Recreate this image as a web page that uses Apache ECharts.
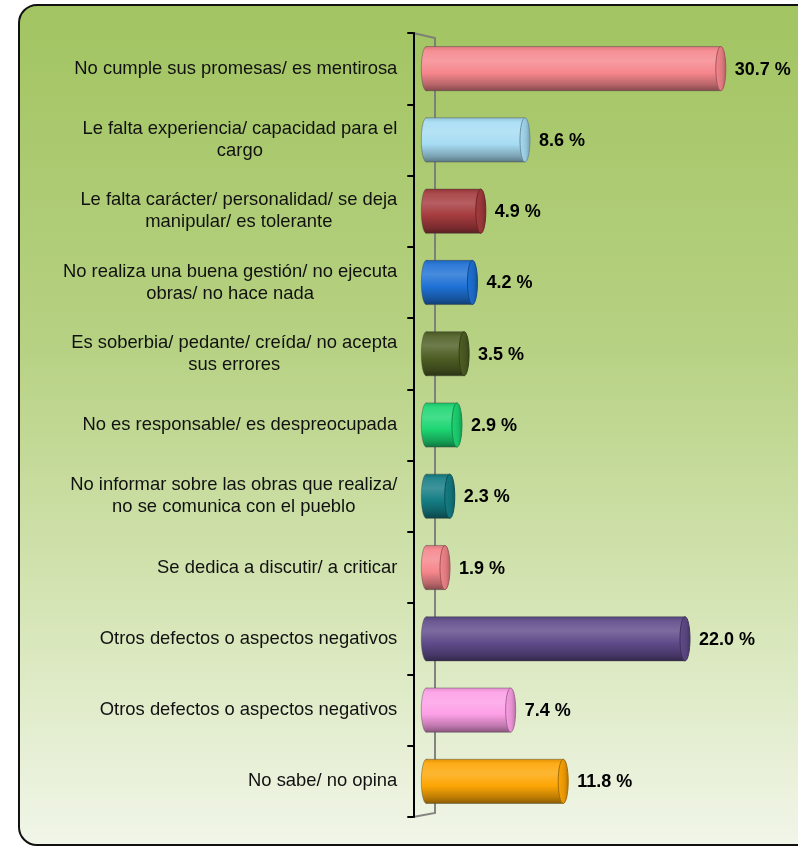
<!DOCTYPE html>
<html>
<head>
<meta charset="utf-8">
<script src="https://cdn.jsdelivr.net/npm/echarts@6/dist/echarts.min.js"></script>
<style>
html,body{margin:0;padding:0;background:#fff;}
#chart{width:798px;height:847px;}
</style>
</head>
<body>
<div id="chart"></div>
<script>
const categories = [
  'No cumple sus promesas/ es mentirosa',
  'Le falta experiencia/ capacidad para el\ncargo',
  'Le falta carácter/ personalidad/ se deja\nmanipular/ es tolerante',
  'No realiza una buena gestión/ no ejecuta\nobras/ no hace nada',
  'Es soberbia/ pedante/ creída/ no acepta\nsus errores',
  'No es responsable/ es despreocupada',
  'No informar sobre las obras que realiza/\nno se comunica con el pueblo',
  'Se dedica a discutir/ a criticar',
  'Otros defectos o aspectos negativos',
  'Otros defectos o aspectos negativos',
  'No sabe/ no opina'
];
const values = [30.7, 8.6, 4.9, 4.2, 3.5, 2.9, 2.3, 1.9, 22.0, 7.4, 11.8];
const barColors = ['#F5868C', '#A6DCF3', '#A53B3E', '#1E71D5', '#4E5E24', '#1CD672', '#147D84', '#F5868C', '#5F4B8A', '#FD9FE6', '#FDA605'];
const AXIS_MIN = 0;
const AXIS_MAX = 25;

function mix(hex, target, t) {
  const n = parseInt(hex.slice(1), 16);
  const r = (n >> 16) & 255, g = (n >> 8) & 255, b = n & 255;
  const tr = target ? 255 : 0;
  const f = c => Math.round(c + (tr - c) * t);
  return 'rgb(' + f(r) + ',' + f(g) + ',' + f(b) + ')';
}
const lighten = (c, t) => mix(c, 1, t);
const darken = (c, t) => mix(c, 0, t);

function bodyGrad(c) {
  return new echarts.graphic.LinearGradient(0, 0, 0, 1, [
    { offset: 0, color: darken(c, 0.1) },
    { offset: 0.1, color: lighten(c, 0.08) },
    { offset: 0.32, color: lighten(c, 0.18) },
    { offset: 0.6, color: c },
    { offset: 0.86, color: darken(c, 0.25) },
    { offset: 1, color: darken(c, 0.45) }
  ]);
}
function capGrad(c) {
  return new echarts.graphic.LinearGradient(0, 0, 1, 0, [
    { offset: 0, color: c },
    { offset: 0.6, color: darken(c, 0.1) },
    { offset: 1, color: darken(c, 0.3) }
  ]);
}

function renderItem(params, api) {
  const v = api.value(0);
  const idx = api.value(1);
  const vis = Math.min(v, AXIS_MAX);
  const p0 = api.coord([0, idx]);
  const p1 = api.coord([vis, idx]);
  const band = api.size([0, 1])[1];
  const h = band * 0.62;
  const ry = h / 2;
  const rx = 5;
  const cy = p0[1];
  const xl = p0[0] - 1;
  const xr = p1[0] - rx;
  const c = barColors[idx];
  const edge = 'rgba(60,60,60,0.4)';
  return {
    type: 'group',
    children: [
      { type: 'ellipse', shape: { cx: xl, cy: cy, rx: rx, ry: ry },
        style: { fill: bodyGrad(c), stroke: edge, lineWidth: 1 } },
      { type: 'rect', shape: { x: xl, y: cy - ry, width: Math.max(0, xr - xl), height: h },
        style: { fill: bodyGrad(c) } },
      { type: 'line', shape: { x1: xl, y1: cy - ry, x2: xr, y2: cy - ry },
        style: { stroke: edge, lineWidth: 1 } },
      { type: 'line', shape: { x1: xl, y1: cy + ry, x2: xr, y2: cy + ry },
        style: { stroke: edge, lineWidth: 1 } },
      { type: 'ellipse', shape: { cx: xr, cy: cy, rx: rx, ry: ry },
        style: { fill: capGrad(c), stroke: darken(c, 0.35), lineWidth: 1 } },
      { type: 'text', x: p1[0] + 9, y: cy + 1,
        style: { text: v.toFixed(1) + ' %', fill: '#000', align: 'left', verticalAlign: 'middle',
                 font: 'bold 18px "Liberation Sans", Arial, sans-serif' } }
    ]
  };
}

const chart = echarts.init(document.getElementById('chart'), null, { renderer: 'canvas' });
const option = {
  animation: false,
  backgroundColor: '#ffffff',
  graphic: [
    { type: 'rect', z: -100, shape: { x: 19, y: 5, width: 800, height: 840, r: 18 },
      style: {
        fill: new echarts.graphic.LinearGradient(0, 0, 0, 1, [
          { offset: 0, color: '#A2C461' },
          { offset: 0.4, color: '#B6D182' },
          { offset: 0.72, color: '#D6E5B6' },
          { offset: 1, color: '#F1F6E9' }
        ]),
        stroke: '#111', lineWidth: 2
      } },
    { type: 'polyline', z: -50, shape: { points: [[413, 33], [435, 38], [435, 813], [413, 817]] },
      style: { fill: null, stroke: 'rgba(120,120,120,0.9)', lineWidth: 2 } }
  ],
  grid: { left: 427.3, right: 72.2, top: 33, bottom: 30, containLabel: false, outerBoundsMode: 'none' },
  xAxis: { type: 'value', min: AXIS_MIN, max: AXIS_MAX, show: false },
  yAxis: {
    type: 'category', data: categories, inverse: true, offset: 14,
    axisLine: { show: true, onZero: false, lineStyle: { color: '#000', width: 2 } },
    axisTick: { show: true, length: 6, lineStyle: { color: '#000', width: 2 } },
    splitLine: { show: false },
    axisLabel: {
      margin: 16, color: '#111', fontSize: 18.4, fontFamily: '"Liberation Sans", Arial, sans-serif',
      formatter: v => v.split('\n').map(l => '{a|' + l + '}').join('\n'),
      rich: { a: { align: 'center', fontSize: 18.4, lineHeight: 22, color: '#111',
                   fontFamily: '"Liberation Sans", Arial, sans-serif' } }
    }
  },
  series: [{
    type: 'custom', clip: false, renderItem: renderItem,
    encode: { x: 0, y: 1 },
    data: values.map((v, i) => [v, i])
  }]
};
chart.setOption(option);
</script>
</body>
</html>
